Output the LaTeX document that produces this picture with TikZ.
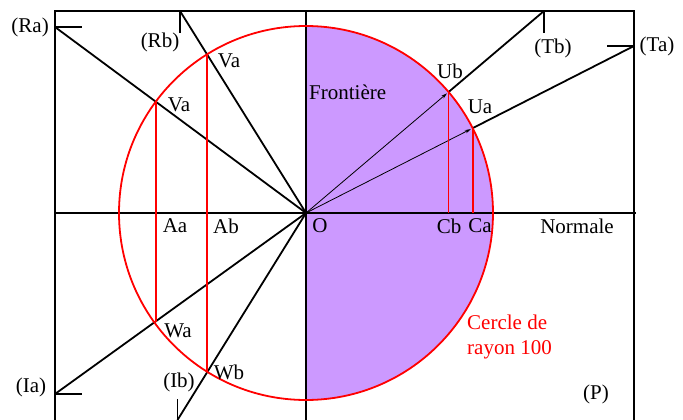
\documentclass[tikz,border=0pt]{standalone}
\usepackage{fontspec}
\setmainfont{Liberation Serif}
\usetikzlibrary{arrows.meta,calc}
\definecolor{cDisk}{HTML}{CC99FF}
\definecolor{cCircle}{HTML}{FF0000}
\tikzset{
  axis/.style={draw=black, line width=1.8pt},
  ray/.style={draw=black, line width=1.8pt},
  thinray/.style={draw=black, line width=0.8pt, -{Stealth[length=6pt,width=3.5pt]}, shorten >=2pt},
  tick/.style={draw=black, line width=1.8pt},
  proj/.style={draw=cCircle, line width=1.8pt},
  lbl/.style={inner sep=0pt, text=black},
  rlbl/.style={lbl, text=cCircle, align=left, anchor=west},
}

\begin{document}
\begin{tikzpicture}[x=1pt, y=-1pt, font=\fontsize{21}{25}\selectfont]
    \useasboundingbox (0,0) rectangle (683,420);
    % --- points, explicit coordinates ---
    \coordinate (O)   at (306,213);
    \coordinate (Ra)  at (55,27);
    \coordinate (Rb)  at (180,11);
    \coordinate (Tb)  at (544,11);
    \coordinate (Ta)  at (634,46);
    \coordinate (Ia)  at (55,394);
    \coordinate (Ib)  at (177.5,420);
    % tick ends
    \coordinate (RaT) at (82,27);
    \coordinate (RbT) at (180,33);
    \coordinate (TbT) at (544,33);
    \coordinate (TaT) at (607,46);
    \coordinate (IaT) at (82,394);
    \coordinate (IbT) at (177.5,399);
    % frame and axes
    \coordinate (FL)  at (55,420);
    \coordinate (TL)  at (55,11);
    \coordinate (TR)  at (634,11);
    \coordinate (FR)  at (634,420);
    \coordinate (NL)  at (55,213);
    \coordinate (NR)  at (636,213);
    \coordinate (FT)  at (306,11);
    \coordinate (FB)  at (306,420);
    % --- points on the circle ---
    \coordinate (Va) at ($(O)!187pt!(Ra)$);
    \coordinate (Vb) at ($(O)!187pt!(Rb)$);
    \coordinate (Ub) at ($(O)!187pt!(Tb)$);
    \coordinate (Ua) at ($(O)!187pt!(Ta)$);
    \coordinate (Wa) at ($(O)!187pt!(Ia)$);
    \coordinate (Wb) at ($(O)!187pt!(Ib)$);
    \coordinate (Aa) at (Va |- Wa);
    \coordinate (Ab) at (Vb |- Wb);
    \coordinate (Cb) at (Ub |- O);
    \coordinate (Ca) at (Ua |- O);
    % --- half disk ---
    \fill[cDisk] (306,26) arc[start angle=-90, end angle=90, radius=187] -- cycle;
    % --- frame and axes ---
    \draw[axis] (FL) -- (TL) -- (TR) -- (FR);
    \draw[axis] (NL) -- (NR);
    \draw[axis] (FT) -- (FB);
    % --- rays ---
    \draw[ray] (Ra) -- (O);
    \draw[ray] (Rb) -- (O);
    \draw[ray] (O) -- (Ia);
    \draw[ray] (O) -- (Ib);
    \draw[thinray] (O) -- (Ub);
    \draw[thinray] (O) -- (Ua);
    \draw[ray] (Ub) -- (Tb);
    \draw[ray] (Ua) -- (Ta);
    \draw[tick] (Ra) -- (RaT);
    \draw[tick] (Rb) -- (RbT);
    \draw[tick] (Tb) -- (TbT);
    \draw[tick] (Ta) -- (TaT);
    \draw[tick] (Ia) -- (IaT);
    \draw[tick] (Ib) -- (IbT);
    % --- circle and projections ---
    \draw[proj] (O) circle[radius=187];
    \draw[proj] (Va) -- (Aa);
    \draw[proj] (Vb) -- (Ab);
    \draw[proj] (Ub) -- (Cb);
    \draw[proj] (Ua) -- (Ca);
    % --- labels ---
    \node[lbl, anchor=east] (lRa) at (49,27)  {(Ra)};
    \node[lbl] (lRb) at (160,42)  {(Rb)};
    \node[lbl] (lVa) at (179,105) {Va};
    \node[lbl] (lVb) at (229,61)  {Va};
    \node[lbl, anchor=west] (lFr) at (309,92) {Frontière};
    \node[lbl] (lUb) at (450,71)  {Ub};
    \node[lbl] (lUa) at (480,107) {Ua};
    \node[lbl] (lTb) at (553,48)  {(Tb)};
    \node[lbl] (lTa) at (657,46)  {(Ta)};
    \node[lbl] (lAa) at (175,226) {Aa};
    \node[lbl] (lAb) at (226,226) {Ab};
    \node[lbl] (lO)  at (320,226) {O};
    \node[lbl] (lCb) at (449,226) {Cb};
    \node[lbl] (lCa) at (480,226) {Ca};
    \node[lbl] (lNo) at (577,226) {Normale};
    \node[rlbl] (lCe) at (467,337) {Cercle de\\rayon 100};
    \node[lbl] (lP)  at (596,394) {(P)};
    \node[lbl] (lIa) at (31,387)  {(Ia)};
    \node[lbl] (lIb) at (179,382) {(Ib)};
    \node[lbl] (lWa) at (178,331) {Wa};
    \node[lbl] (lWb) at (229,372) {Wb};
\end{tikzpicture}
\end{document}
